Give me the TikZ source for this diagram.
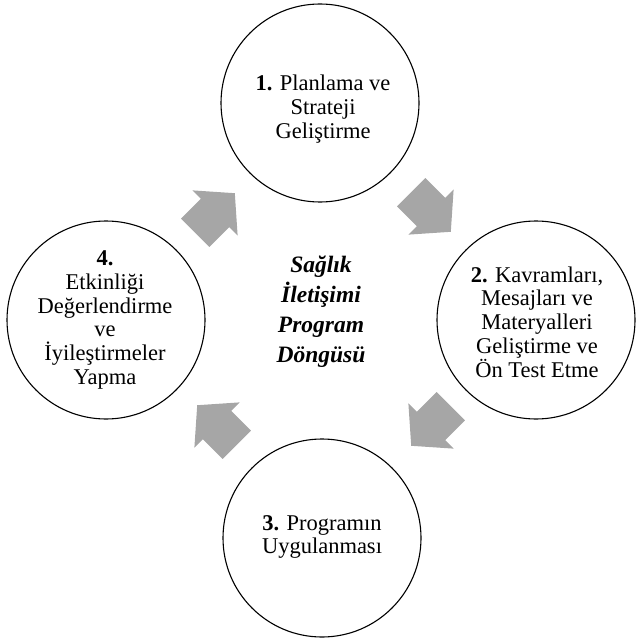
\documentclass[tikz,border=0pt]{standalone}
\usepackage{fontspec}
\setmainfont{Liberation Serif}
\definecolor{arrowgray}{RGB}{166,166,166}
\begin{document}
\begin{tikzpicture}[x=1pt,y=1pt,
  stage/.style={circle, draw=black, line width=1.1pt, minimum size=198pt, inner sep=0pt},
  stagetext/.style={align=center, font=\fontsize{22.5}{23.7}\selectfont, inner sep=0pt},
  hubtext/.style={align=center, font=\fontsize{23.5}{30}\selectfont\bfseries\itshape, inner sep=0pt},
  blockarrow/.pic={\fill[arrowgray] (-28,-20) -- (0,-20) -- (0,-32) -- (28,0) -- (0,32) -- (0,20) -- (-28,20) -- cycle;}]
\useasboundingbox (0,0) rectangle (635,-639);

% the four stages of the cycle
\node[stage] (s1) at (320,-103) {};
\node[stage] (s2) at (536,-320) {};
\node[stage] (s3) at (322,-538) {};
\node[stage] (s4) at (106,-320) {};

\node[stagetext] (t1) at (323,-109) {\textbf{1.} Planlama ve\\Strateji\\Geliştirme};
\node[stagetext] (t2) at (537,-322) {\textbf{2.} Kavramları,\\Mesajları ve\\Materyalleri\\Geliştirme ve\\Ön Test Etme};
\node[stagetext] (t3) at (322,-537) {\textbf{3.} Programın\\Uygulanması};
\node[stagetext] (t4) at (105,-320) {\textbf{4.}\\Etkinliği\\Değerlendirme\\ve\\İyileştirmeler\\Yapma};

% title in the middle
\node[hubtext] (hub) at (321,-312) {Sağlık\\İletişimi\\Program\\Döngüsü};

% block arrows turning clockwise
\pic[rotate=45]   (a41) at (215,-213) {blockarrow};
\pic[rotate=-45]  (a12) at (431,-212) {blockarrow};
\pic[rotate=-135] (a23) at (431,-426) {blockarrow};
\pic[rotate=135]  (a34) at (217,-425) {blockarrow};
\end{tikzpicture}
\end{document}
